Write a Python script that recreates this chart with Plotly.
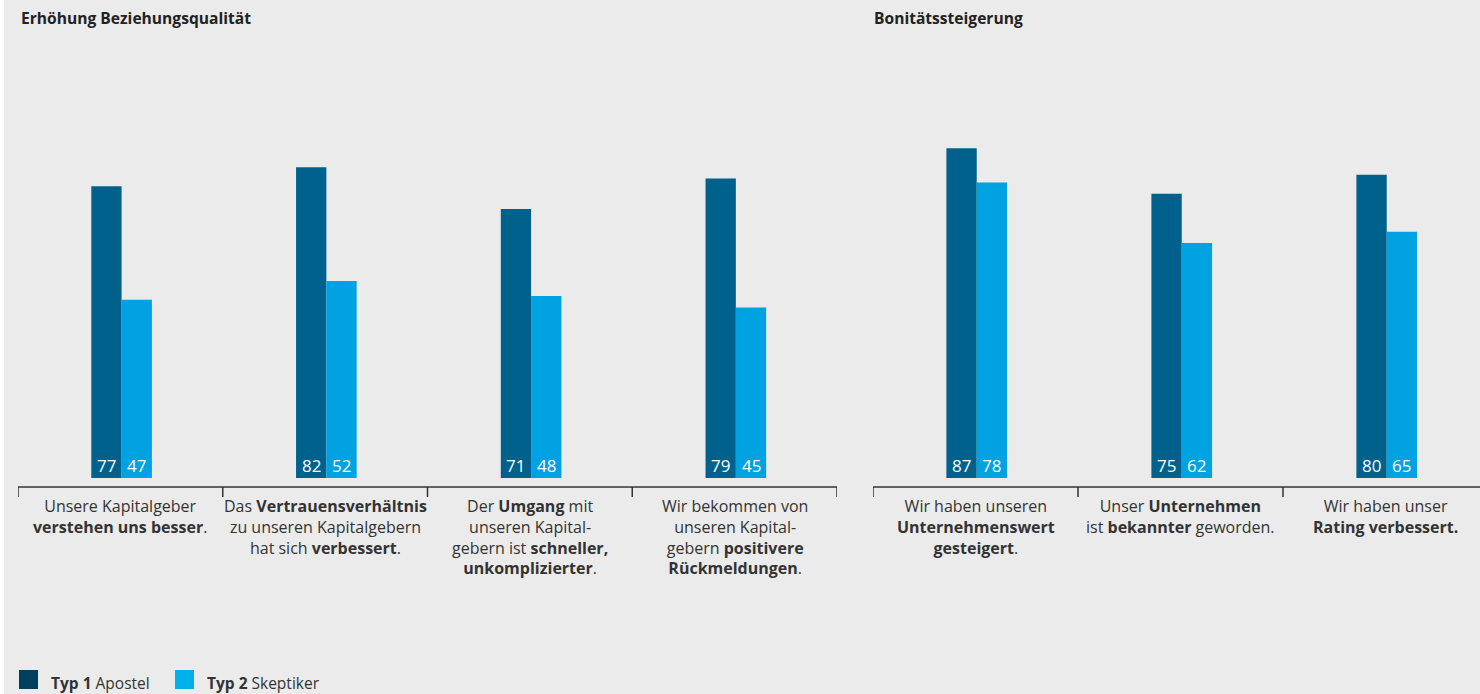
import plotly.graph_objects as go

# ---- data -------------------------------------------------------------
left_title = "Erhöhung Beziehungsqualität"
right_title = "Bonitätssteigerung"

left_labels = [
    "Unsere Kapitalgeber<br><b>verstehen uns besser</b>.",
    "Das <b>Vertrauensverhältnis</b><br>zu unseren Kapitalgebern<br>hat sich <b>verbessert</b>.",
    "Der <b>Umgang</b> mit<br>unseren Kapital-<br>gebern ist <b>schneller,</b><br><b>unkomplizierter</b>.",
    "Wir bekommen von<br>unseren Kapital-<br>gebern <b>positivere</b><br><b>Rückmeldungen</b>.",
]
right_labels = [
    "Wir haben unseren<br><b>Unternehmenswert</b><br><b>gesteigert</b>.",
    "Unser <b>Unternehmen</b><br>ist <b>bekannter</b> geworden.",
    "Wir haben unser<br><b>Rating verbessert.</b>",
]

left_typ1 = [77, 82, 71, 79]
left_typ2 = [47, 52, 48, 45]
right_typ1 = [87, 75, 80]
right_typ2 = [78, 62, 65]

legend_names = ["<b>Typ 1</b> Apostel", "<b>Typ 2</b> Skeptiker"]

# ---- styling ----------------------------------------------------------
W, H = 1480, 694
BG = "#ebebeb"
DARK = "#00628c"
LIGHT = "#00a2e1"
LEG_DARK = "#00405f"
LEG_LIGHT = "#00b0ea"
TXT = "#333333"
FONT = "Open Sans"
BW = 0.148    # bar width in category units
SHIFT = 0.006  # small nudge of each bar pair to the right


def px_x(p):
    return p / W


def px_y(p):
    return 1 - p / H


fig = go.Figure()

panels = [
    ("x", left_typ1, left_typ2),
    ("x2", right_typ1, right_typ2),
]
for xref, t1, t2 in panels:
    idx = list(range(len(t1)))
    fig.add_trace(go.Bar(x=idx, y=t1, xaxis=xref, yaxis="y", width=BW,
                         offset=-BW + SHIFT, marker=dict(color=DARK, line_width=0),
                         showlegend=False, hoverinfo="skip"))
    fig.add_trace(go.Bar(x=idx, y=t2, xaxis=xref, yaxis="y", width=BW,
                         offset=SHIFT, marker=dict(color=LIGHT, line_width=0),
                         showlegend=False, hoverinfo="skip"))
    # value labels at the foot of each bar
    for i, (a, b) in enumerate(zip(t1, t2)):
        for xv, v in ((i - BW / 2 + SHIFT, a), (i + BW / 2 + SHIFT, b)):
            fig.add_annotation(x=xv, y=0, xref=xref, yref="y", text=str(v),
                               showarrow=False, yanchor="bottom", yshift=-1,
                               font=dict(family=FONT, size=17, color="white"))

shapes = []
annotations = []

# category axes with separating ticks
AXIS_Y = px_y(487)
TICK_Y = px_y(497)
for xref, labels in (("x", left_labels), ("x2", right_labels)):
    n = len(labels)
    shapes.append(dict(type="line", xref=xref, yref="paper", x0=-0.5, x1=n - 0.5,
                       y0=AXIS_Y, y1=AXIS_Y, line=dict(color=TXT, width=1.5)))
    for k in range(n + 1):
        shapes.append(dict(type="line", xref=xref, yref="paper", x0=k - 0.5, x1=k - 0.5,
                           y0=AXIS_Y, y1=TICK_Y, line=dict(color=TXT, width=1.5)))
    for i, lab in enumerate(labels):
        annotations.append(dict(x=i, y=px_y(493), xref=xref, yref="paper", text=lab,
                                showarrow=False, yanchor="top", xanchor="center",
                                align="center",
                                font=dict(family=FONT, size=16, color=TXT)))

# panel titles
for xp, t in ((19, left_title), (872, right_title)):
    annotations.append(dict(x=px_x(xp), y=px_y(18), xref="paper", yref="paper",
                            text=f"<b>{t}</b>", showarrow=False, xanchor="left",
                            yanchor="middle", font=dict(family=FONT, size=15.6, color="#222222")))

# legend swatches and texts
for (x0, col), name, tx in zip(((19, LEG_DARK), (175, LEG_LIGHT)), legend_names, (49, 205)):
    shapes.append(dict(type="rect", xref="paper", yref="paper", x0=px_x(x0), x1=px_x(x0 + 19),
                       y0=px_y(689), y1=px_y(670), fillcolor=col, line_width=0))
    annotations.append(dict(x=px_x(tx), y=px_y(683), xref="paper", yref="paper", text=name,
                            showarrow=False, xanchor="left", yanchor="middle",
                            font=dict(family=FONT, size=15.5, color=TXT)))

# thin white strip along the left edge
shapes.append(dict(type="rect", xref="paper", yref="paper", x0=0, x1=px_x(4), y0=0, y1=1,
                   fillcolor="white", line_width=0, layer="below"))

fig.update_layout(
    width=W, height=H,
    margin=dict(l=0, r=0, t=0, b=0),
    paper_bgcolor=BG, plot_bgcolor="rgba(0,0,0,0)",
    barmode="overlay",
    showlegend=False,
    xaxis=dict(domain=[px_x(18), px_x(837)], range=[-0.5, 3.5], visible=False, fixedrange=True),
    xaxis2=dict(domain=[px_x(873), 1.0], range=[-0.5, -0.5 + 607 / 205], visible=False,
                anchor="y", fixedrange=True),
    yaxis=dict(domain=[px_y(478), px_y(99)], range=[0, 100], visible=False, fixedrange=True),
    shapes=shapes,
    annotations=list(fig.layout.annotations) + annotations,
    font=dict(family=FONT),
)

fig.write_html("out.html")
